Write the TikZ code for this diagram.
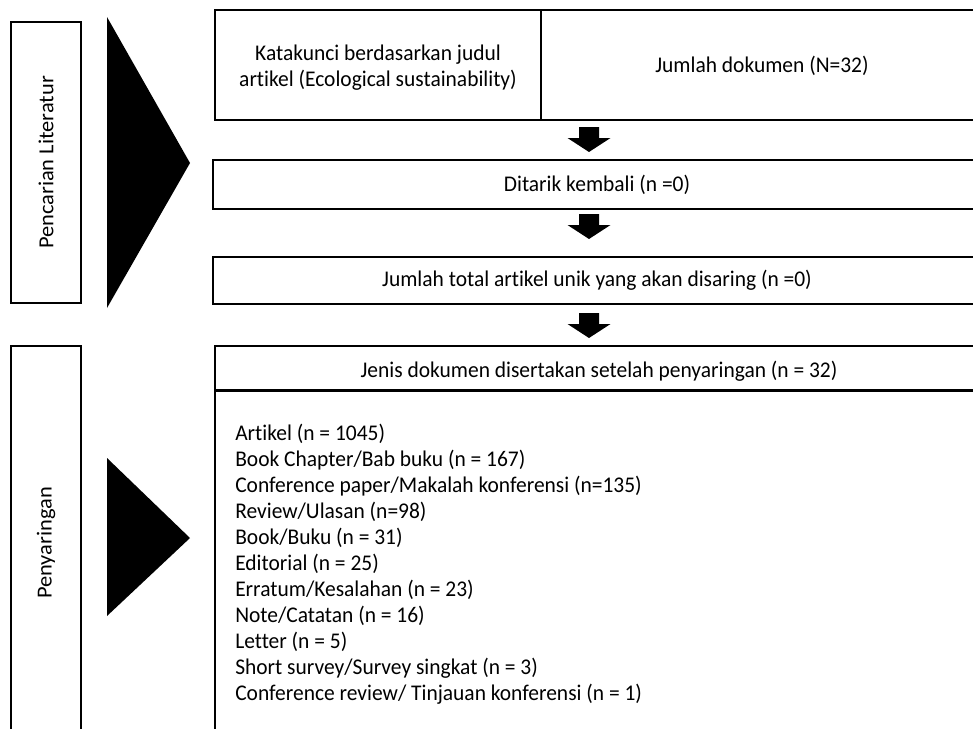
\documentclass[tikz,border=0pt]{standalone}
\usepackage{graphicx}
\usepackage{fontspec}
\setmainfont{Carlito}[Ligatures=NoCommon]
\newlength\pxu
\setlength\pxu{0.75pt}
\newcommand\txtfont{\fontsize{16.1}{18.7}\selectfont}
\newcommand\tx[2]{\scalebox{1}[1.045]{\begin{tabular}[t]{@{}#1@{}}#2\end{tabular}}}
\newcommand\vtx[1]{\scalebox{1.045}[1]{#1}}
\begin{document}
\begin{tikzpicture}[x=0.75pt,y=-0.75pt,
  box/.style={draw=black, line width=0.9pt, inner sep=2pt, align=center, font=\txtfont},
  lbl/.style={box, minimum width=70\pxu},
  txt/.style={inner sep=0, font=\txtfont},
  tri/.style={fill=black},
  downarrow/.pic={\fill[black] (-10,0) -- (10,0) -- (10,11) -- (21.5,11) -- (0,25) -- (-21.5,11) -- (-10,11) -- cycle;}
]
\useasboundingbox (0,0) rectangle (973,728);
\clip (0,0) rectangle (973,728);
\fill[white] (0,0) rectangle (973,728);

% left labels
\node[lbl, minimum height=281\pxu] (L1) at (46,162.5) {};
\node[txt, rotate=90] (L1t) at (L1.center) {\vtx{Pencarian Literatur}};
\node[lbl, minimum height=394\pxu] (L2) at (46,543) {};
\node[txt, rotate=90] (L2t) at (L2.center) {\vtx{Penyaringan}};

% triangles
\fill[tri] (107,17) -- (107,308) -- (190,163) -- cycle;
\fill[tri] (107,458) -- (107,616) -- (190,538) -- cycle;

% top boxes
\node[box, minimum width=326\pxu, minimum height=110\pxu] (k1) at (378,65) {};
\node[txt, anchor=base] (k1t) at (378,60) {\tx{c}{Katakunci berdasarkan judul\\artikel (Ecological sustainability)}};
\node[box, minimum width=442\pxu, minimum height=110\pxu] (k2) at (762,65) {};
\node[txt, anchor=base] (k2t) at (762,72.5) {\tx{c}{Jumlah dokumen (N=32)}};
\node[box, minimum width=770\pxu, minimum height=49\pxu] (d) at (598,184.5) {};
\node[txt, anchor=base] (dt) at (597,191) {\tx{c}{Ditarik kembali (n =0)}};
\node[box, minimum width=770\pxu, minimum height=47\pxu] (j) at (598,280.5) {};
\node[txt, anchor=base] (jt) at (597,286.5) {\tx{c}{Jumlah total artikel unik yang akan disaring (n =0)}};

% bottom boxes
\node[box, minimum width=768\pxu, minimum height=44\pxu] (h) at (599,368) {};
\node[txt, anchor=base] (ht) at (599,377) {\tx{c}{Jenis dokumen disertakan setelah penyaringan (n = 32)}};
\node[box, minimum width=768\pxu, minimum height=360\pxu, anchor=north] (lst) at (h.south) {};
\node[txt, anchor=base west] (items) at (235,440)
  {\tx{l}{Artikel (n = 1045)\\
   Book Chapter/Bab buku (n = 167)\\
   Conference paper/Makalah konferensi (n=135)\\
   Review/Ulasan (n=98)\\
   Book/Buku (n = 31)\\
   Editorial (n = 25)\\
   Erratum/Kesalahan (n = 23)\\
   Note/Catatan (n = 16)\\
   Letter (n = 5)\\
   Short survey/Survey singkat (n = 3)\\
   Conference review/ Tinjauan konferensi (n = 1)}};

% block arrows between stages
\pic at (589,127) {downarrow};
\pic at (589,214) {downarrow};
\pic at (589,313) {downarrow};
\end{tikzpicture}
\end{document}
